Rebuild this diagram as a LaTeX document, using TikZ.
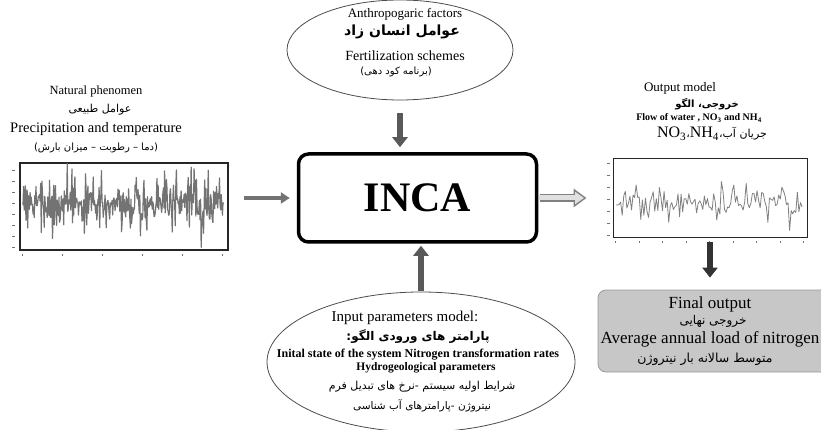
\documentclass[tikz,border=0pt]{standalone}
\usepackage{fontspec}
\setmainfont{Liberation Serif}
\newfontfamily\persianfont[Script=Arabic]{DejaVu Sans}
\TeXXeTstate=1
\usepackage{tikz}
\usetikzlibrary{arrows.meta,%
                shapes.geometric,positioning}
\newcommand{\fatxt}[1]{{\persianfont\beginR #1\endR}}
\newcommand{\ltr}[1]{{\rmfamily\beginL #1\endL}}

\begin{document}
\begin{tikzpicture}[x=1pt,y=-1pt,
  fs/.style={inner sep=0pt,font=\fontsize{#1}{#1}\selectfont},
  fsb/.style={inner sep=0pt,font=\fontsize{#1}{#1}\selectfont\bfseries},
  oval/.style={ellipse,draw=black!70,line width=0.8pt,inner sep=0pt},
  frame/.style={draw=black!85,line width=1.3pt,inner sep=0pt},
  tick/.style={black!55,line width=0.6pt},
  blockarrow/.style={line width=6pt,draw=#1,-{Triangle[length=10pt,width=15pt]}}]
\useasboundingbox (0,0) rectangle (821,430);
\node[oval,minimum width=226pt,minimum height=100pt] (anthro) at (400,50) {};
\node[fs=13] (anthroA) at (405,14) {Anthropogaric factors};
\node[fs=14] (anthroB) at (402,32) {\fatxt{\bfseries عوامل انسان زاد}};
\node[fs=14] (anthroC) at (405,56) {Fertilization schemes};
\node[fs=10] (anthroD) at (396,72) {\fatxt{(برنامه کود دهی)}};
\node[draw,line width=3.5pt,rounded corners=10pt,minimum width=238pt,minimum height=88pt,
      font=\fontsize{42}{42}\selectfont\bfseries] (inca) at (417.5,198) {INCA};
\node[fs=12.5] (natA) at (96,91) {Natural phenomen};
\node[fs=11] (natB) at (100,110) {\fatxt{عوامل طبیعی}};
\node[fs=14.5] (natC) at (96,129) {Precipitation and temperature};
\node[fs=10] (natD) at (96,148) {\fatxt{(دما – رطوبت – میزان بارش)}};
\node[frame,minimum width=208pt,minimum height=87pt] (leftchart) at (124,206.5) {};
\pgfmathsetseed{42}
\draw[black!55,line width=1.2pt,line join=round] (23,205)
  \foreach \i in {1,...,340} {-- ({23+\i*0.59},{204+10*rand+36*rand*rand})};
\foreach \k in {0,...,7}
  \draw[tick] ([xshift=-7pt,yshift=\k*11pt+3pt]leftchart.south west) -- ++(3,0);
\foreach \k in {0,...,5}
  \draw[tick] ([xshift=\k*40pt+3pt,yshift=-3pt]leftchart.south west) -- ++(0,2);
\node[fs=13] (outA) at (680,88) {Output model};
\node[fs=10] (outB) at (707,104) {\fatxt{\bfseries خروجی، الگو}};
\node[fsb=10] (outC) at (699,118) {Flow of water , NO\textsubscript{3} and NH\textsubscript{4}};
\node[fs=11] (outD) at (712,134) {\fatxt{جریان آب،\ltr{\fontsize{16}{16}\selectfont NO\textsubscript{3}{\persianfont\fontsize{11}{11}\selectfont ،}NH\textsubscript{4}}}};
\node[frame,line width=1pt,minimum width=194pt,minimum height=79pt] (rightchart) at (710,198.5) {};
\draw[black!50,line width=0.8pt,line join=round] (616,205)
  \foreach \i in {1,...,120} {-- ({616+\i*1.55},{203+8*rand+22*rand*rand})};
\foreach \k in {0,...,6}
  \draw[tick] ([xshift=-6pt,yshift=\k*12pt+3pt]rightchart.south west) -- ++(3,0);
\foreach \k in {0,...,8}
  \draw[tick] ([xshift=\k*23.5pt+3pt,yshift=-3pt]rightchart.south west) -- ++(0,2);
\node[draw=black!40,fill=black!22,line width=0.8pt,rounded corners=8pt,
      minimum width=232pt,minimum height=82pt] (final) at (714,331) {};
\node[fs=17] (finA) at (710,304) {Final output};
\node[fs=12] (finB) at (713,321) {\fatxt{خروجی نهایی}};
\node[fs=17] (finC) at (710,339) {Average annual load of nitrogen};
\node[fs=12.5] (finD) at (705,359) {\fatxt{متوسط سالانه بار نیتروژن}};
\node[oval,minimum width=308pt,minimum height=140pt] (input) at (421,362) {};
\node[fs=15] (inA) at (405,318) {Input parameters model:};
\node[fs=12] (inB) at (418,337) {\fatxt{\bfseries پارامتر های ورودی الگو:}};
\node[fsb=12] (inC) at (418,355) {Inital state of the system Nitrogen transformation rates};
\node[fsb=11.5] (inD) at (426,368) {Hydrogeological parameters};
\node[fs=11] (inE) at (422,387) {\fatxt{شرایط اولیه سیستم -نرخ های تبدیل فرم}};
\node[fs=10.5] (inF) at (422,406) {\fatxt{نیتروژن -پارامترهای آب شناسی}};
\draw[blockarrow=black!65,shorten <=13pt,shorten >=5pt] (anthro.south) -- (anthro.south |- inca.north);
\draw[blockarrow=black!65,shorten <=1pt,shorten >=2pt] (input.north) -- (input.north |- inca.south);
\draw[line width=3.5pt,black!55,-{Triangle[length=9pt,width=11pt]},shorten <=15pt,shorten >=7pt]
  (leftchart.east |- inca.west) -- (inca.west);
\draw[line width=8pt,black!50,-{Triangle[length=13pt,width=18pt]},shorten <=2pt,shorten >=26pt]
  (inca.east) -- (inca.east -| rightchart.west);
\draw[line width=5pt,black!12,-{Triangle[length=9pt,width=12pt]},shorten <=1pt,shorten >=28.5pt]
  (inca.east) -- (inca.east -| rightchart.west);
\draw[blockarrow=black!80,shorten <=4pt,shorten >=12pt] (rightchart.south) -- (rightchart.south |- final.north);
\end{tikzpicture}
\end{document}
